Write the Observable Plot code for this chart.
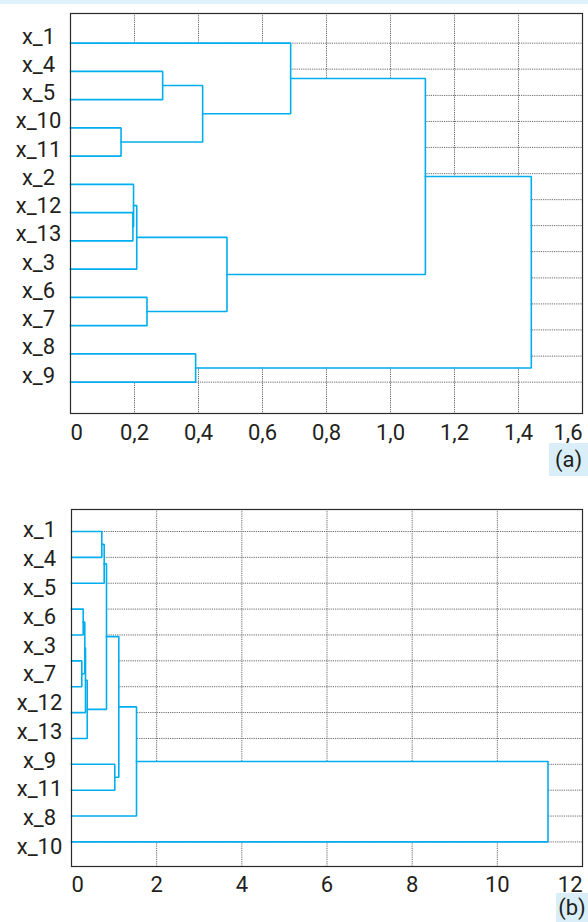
<!DOCTYPE html>
<html><head><meta charset="utf-8">
<script src="https://cdn.jsdelivr.net/npm/d3@7"></script>
<script src="https://cdn.jsdelivr.net/npm/@observablehq/plot@0.6"></script>
<style>
body{margin:0;background:#fff;font-family:Roboto,"Liberation Sans",sans-serif;}
#wrap{position:relative;width:588px;height:922px;overflow:hidden;background:#fff;}
#band{position:absolute;left:0;top:0;width:588px;height:4px;background:#dff2fb;}
.tag{position:absolute;background:#d9eef9;color:#231f20;font-size:22px;text-align:center;font-family:Roboto,sans-serif;}
#pa{position:absolute;left:0;top:0;}
#pb{position:absolute;left:0;top:480px;}
</style></head><body>
<div id="wrap">
<div id="band"></div>
<div id="pa"></div>
<div id="pb"></div>
<div class="tag" style="left:549px;top:443px;width:39px;height:33px;line-height:33px">(a)</div>
<div class="tag" style="left:556px;top:893px;width:32px;height:29px;line-height:29px">(b)</div>
</div>
<script>
// ---------- DATA ----------
// Panel (a): leaf order (top to bottom)
const leavesA = ["x_1","x_4","x_5","x_10","x_11","x_2","x_12","x_13","x_3","x_6","x_7","x_8","x_9"];
const labelsA = ["x_1","x_4","x_5","x_10","x_11","x_2","x_12","x_13","x_3","x_6","x_7","x_8","x_9"];
// merges: [left, right, height]; merge k gets id "m"+k
const mergesA = [
  ["x_4","x_5",0.288],   // m0
  ["x_10","x_11",0.158], // m1
  ["m0","m1",0.413],     // m2
  ["x_1","m2",0.688],    // m3
  ["x_12","x_13",0.195], // m4
  ["x_2","m4",0.197],    // m5
  ["m5","x_3",0.207],    // m6
  ["x_6","x_7",0.239],   // m7
  ["m6","m7",0.489],     // m8
  ["m3","m8",1.109],     // m9
  ["x_8","x_9",0.391],   // m10
  ["m9","m10",1.44]      // m11
];
const tickValsA = [0,0.2,0.4,0.6,0.8,1.0,1.2,1.4,1.6];
const tickTextA = ["0","0,2","0,4","0,6","0,8","1,0","1,2","1,4","1,6"];
const gridRowsA = [0,0.92,1.85,2.77,3.69,4.62,5.54,6.46,7.38,8.31,9.23,10.15,11.08,12];

// Panel (b)
const leavesB = ["x_1","x_4","x_5","x_6","x_3","x_7","x_2","x_12","x_13","x_9","x_11","x_8","x_10"];
const labelsB = ["x_1","x_4","x_5","x_6","x_3","x_7","x_12","x_13","x_9","x_11","x_8","x_10"];
const mergesB = [
  ["x_1","x_4",0.712],   // m0
  ["m0","x_5",0.768],    // m1
  ["x_6","x_3",0.275],   // m2
  ["x_7","x_2",0.242],   // m3
  ["m2","m3",0.312],     // m4
  ["m4","x_12",0.329],   // m5
  ["m5","x_13",0.369],   // m6
  ["m1","m6",0.822],     // m7
  ["x_9","x_11",1.017],  // m8
  ["m7","m8",1.111],     // m9
  ["m9","x_8",1.527],    // m10
  ["m10","x_10",11.19]   // m11
];
const tickValsB = [0,2,4,6,8,10,12];
const tickTextB = ["0","2","4","6","8","10","12"];
const gridRowsB = [0,1,2,3,4,5,6,7,8,9,10,11,12];

// ---------- LAYOUT HELPERS ----------
const BLUE = "#00aeef";
const INK = "#231f20";
const FONT = "Roboto, 'Liberation Sans', sans-serif";

function dendro(leaves, merges) {
  const pos = new Map();
  leaves.forEach((id, i) => pos.set(id, {y: i, h: 0}));
  const paths = [], rects = [];
  merges.forEach(([a, b, h], k) => {
    const A = pos.get(a), B = pos.get(b), id = "m" + k;
    paths.push({id, x: A.h, y: A.y}, {id, x: h, y: A.y}, {id, x: h, y: B.y}, {id, x: B.h, y: B.y});
    rects.push({x1: 0, x2: h, y1: Math.min(A.y, B.y), y2: Math.max(A.y, B.y)});
    pos.set(id, {y: (A.y + B.y) / 2, h});
  });
  return {paths, rects};
}

function tickMarks(vals, texts, dy) {
  const t = vals.map((v, i) => ({v, t: texts[i]}));
  const n = t.length;
  const common = {x: "v", text: "t", frameAnchor: "bottom", dy, lineAnchor: "middle", fontSize: 22, fill: INK};
  return [
    Plot.text(t.slice(0, 1), {...common, textAnchor: "start"}),
    Plot.text(t.slice(1, n - 1), {...common, textAnchor: "middle"}),
    Plot.text(t.slice(n - 1), {...common, textAnchor: "end"})
  ];
}

function panel({leaves, labels, merges, tickVals, tickText, gridRows, xDomain, yDomain, height, marginTop, marginBottom, marginLeft, labelRow, labelDy, tickDy}) {
  const {paths, rects} = dendro(leaves, merges);
  const gridX = tickVals.slice(1, -1);
  return Plot.plot({
    width: 588, height, marginTop, marginBottom, marginLeft, marginRight: 6,
    style: {fontFamily: FONT, background: "transparent", overflow: "visible"},
    x: {domain: xDomain, axis: null},
    y: {domain: yDomain, reverse: true, axis: null},
    marks: [
      Plot.ruleX(gridX, {stroke: "#6a6a6a", strokeDasharray: "1.2,1", strokeWidth: 1}),
      Plot.ruleY(gridRows, {stroke: "#6a6a6a", strokeDasharray: "1.2,1", strokeWidth: 1}),
      Plot.rect(rects, {x1: "x1", x2: "x2", y1: "y1", y2: "y2", fill: "white"}),
      Plot.line(paths, {x: "x", y: "y", z: "id", stroke: BLUE, strokeWidth: 1.6, strokeLinejoin: "miter", strokeLinecap: "square"}),
      Plot.frame({stroke: "#2a2a2a", strokeWidth: 1.2}),
      Plot.text(labels, {y: (d, i) => labelRow(i), text: d => d, frameAnchor: "left", dx: -32, dy: labelDy, textAnchor: "middle", lineAnchor: "bottom", fontSize: 22, fill: INK}),
      ...tickMarks(tickVals, tickText, tickDy)
    ]
  });
}

// Panel (a)
document.getElementById("pa").append(panel({
  leaves: leavesA, labels: labelsA, merges: mergesA,
  tickVals: tickValsA, tickText: tickTextA, gridRows: gridRowsA,
  xDomain: [0, 1.6], yDomain: [-1.05, 13.11],
  height: 446, marginTop: 13, marginBottom: 33, marginLeft: 70,
  labelRow: i => i, labelDy: 0.5, tickDy: 19
}));

// Panel (b)
document.getElementById("pb").append(panel({
  leaves: leavesB, labels: labelsB, merges: mergesB,
  tickVals: tickValsB, tickText: tickTextB, gridRows: gridRowsB,
  xDomain: [0, 12], yDomain: [-0.85, 12.95],
  height: 420, marginTop: 29, marginBottom: 34, marginLeft: 71,
  labelRow: i => 0.23 + 1.112 * i, labelDy: 0, tickDy: 18
}));
</script>
</body></html>
